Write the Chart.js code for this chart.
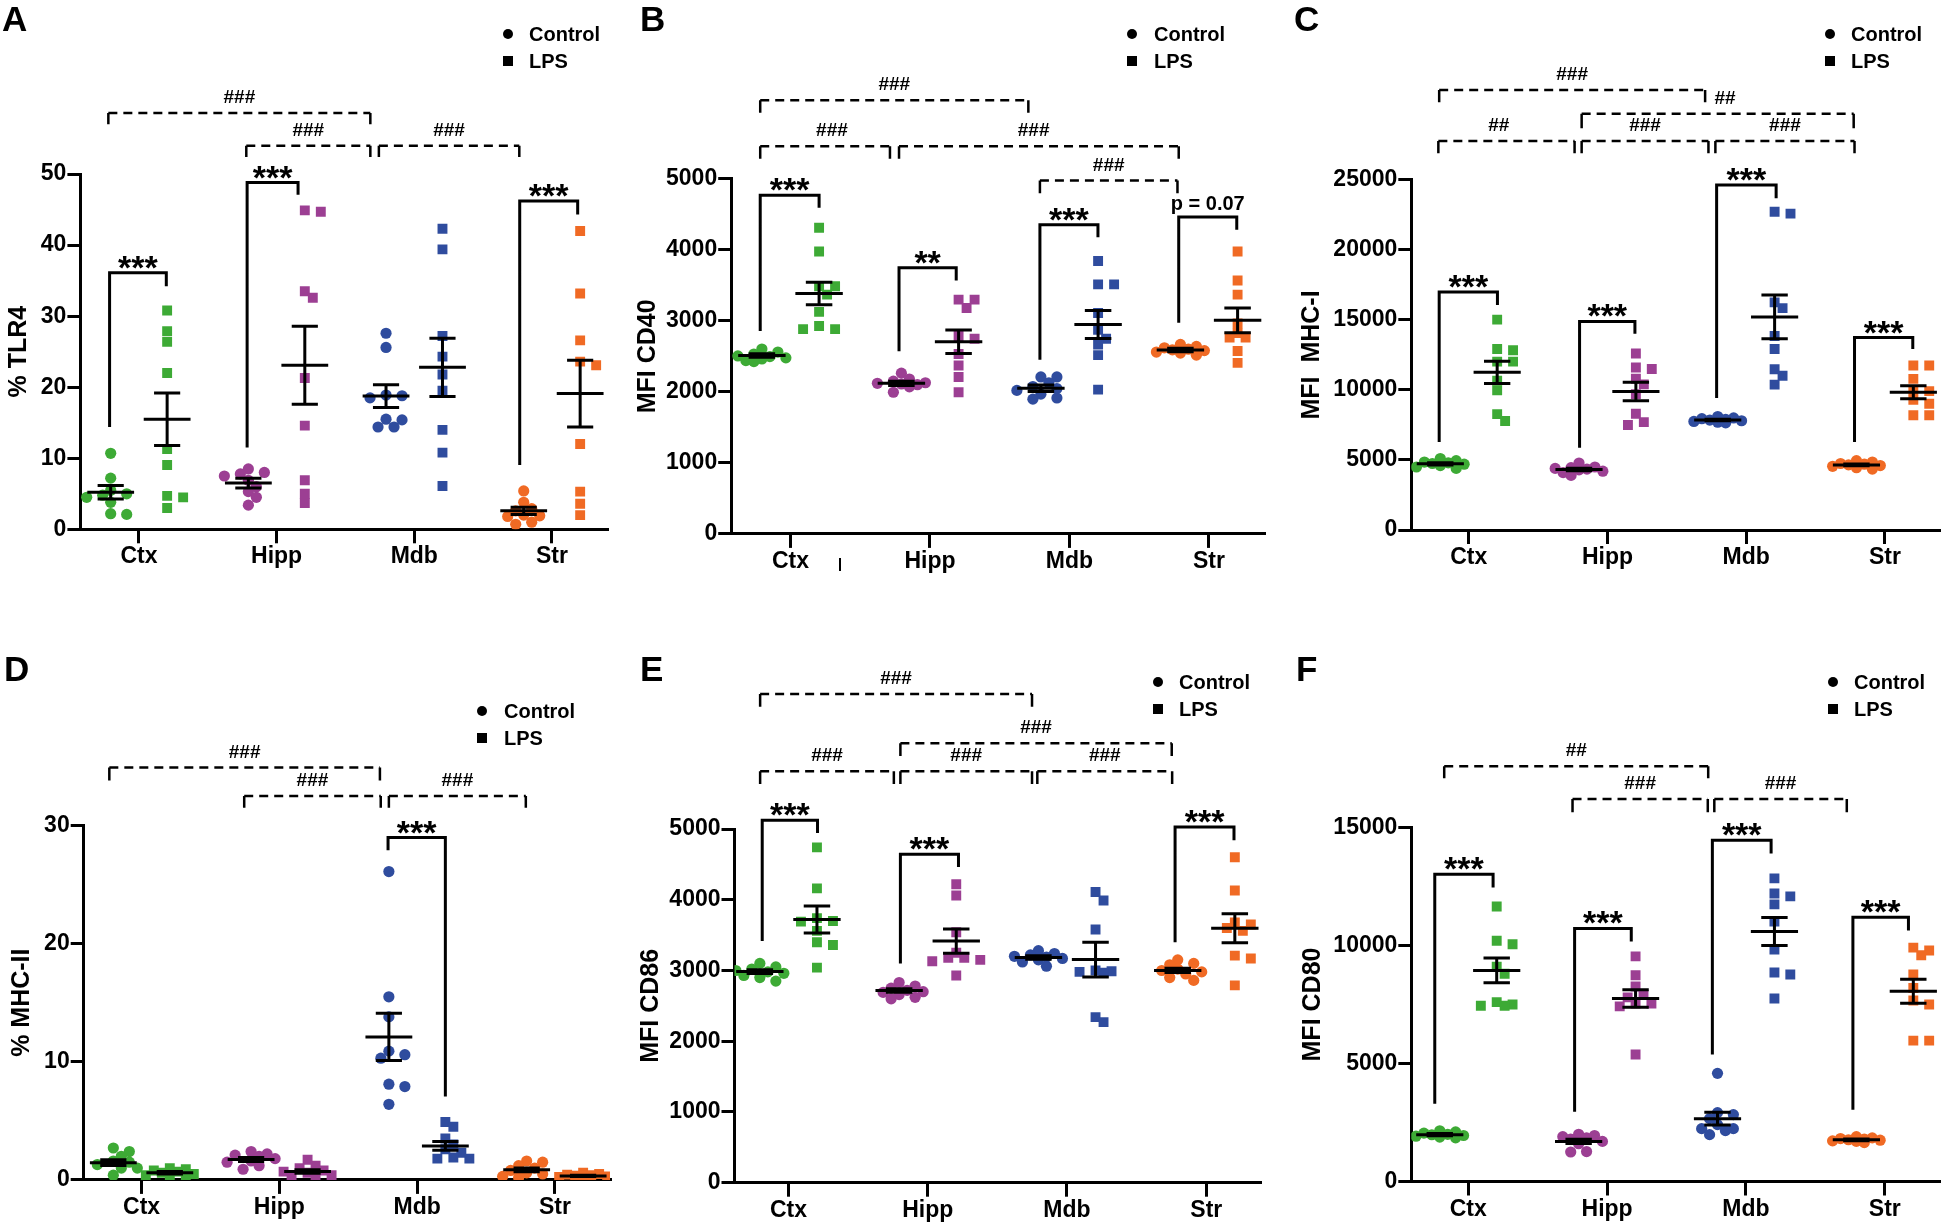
<!DOCTYPE html>
<html>
<head>
<meta charset="utf-8">
<script src="https://cdn.jsdelivr.net/npm/chart.js@4.4.1/dist/chart.umd.min.js"></script>
<style>
	body { margin: 0; background: #fff; width: 1946px; height: 1228px; position: relative; overflow: hidden;
		font-family: Arial, "Liberation Sans", sans-serif; color: #000; }
	canvas { position: absolute; }
	.letter { position: absolute; font-weight: bold; font-size: 35px; line-height: 35px; }
	.key { position: absolute; font-weight: bold; font-size: 20px; line-height: 20px; white-space: nowrap; }
	.dot { position: absolute; width: 10px; height: 10px; background: #000; border-radius: 50%; }
	.sq { position: absolute; width: 10px; height: 10px; background: #000; }
</style>
</head>
<body>
<script>
const regions = ["Ctx", "Hipp", "Mdb", "Str"];
const groupNames = ["Control", "LPS"];
const regionColors = ["#3DAA35", "#9C3F93", "#2F4C9E", "#F06A24"];

// A - % TLR4
const tlr4Control = [
	[10.7, 7.2, 5.5, 5.0, 4.8, 4.5, 3.8, 2.2, 2.1],
	[8.5, 8.0, 7.8, 7.5, 6.9, 6.0, 5.3, 4.5, 3.4],
	[27.6, 25.6, 18.8, 18.5, 18.9, 15.4, 15.5, 14.4, 14.4],
	[5.4, 3.8, 2.9, 2.6, 2.0, 1.9, 1.8, 1.0, 0.7],
];
const tlr4Lps = [
	[30.8, 27.9, 26.4, 22.0, 11.3, 9.05, 4.7, 4.5, 3.0],
	[44.9, 44.7, 33.5, 32.6, 21.3, 14.6, 6.9, 5.0, 3.7],
	[42.3, 39.4, 27.2, 24.3, 21.8, 19.5, 14.0, 10.8, 6.1],
	[42.0, 33.2, 26.6, 23.6, 23.1, 12.0, 5.3, 3.6, 2.0],
];
const tlr4ControlMeanSem = [[5.2, 0.95], [6.5, 0.7], [18.75, 1.6], [2.6, 0.5]];
const tlr4LpsMeanSem = [[15.5, 3.7], [23.1, 5.5], [22.8, 4.1], [19.1, 4.7]];
const tlr4Stars = [
	{ x1: -0.213, x2: 0.199, top: 36.1, y1: 14.4, y2: 34.2, label: "***" },
	{ x1: 0.786, x2: 1.156, top: 48.8, y1: 11.5, y2: 47.1, label: "***" },
	{ x1: 2.766, x2: 3.187, top: 46.2, y1: 9.05, y2: 44.3, label: "***" },
];
const tlr4Hashes = [
	{ x1: -0.222, x2: 1.681, top: 58.6, leg: 57.0, label: "###" },
	{ x1: 0.78, x2: 1.681, top: 54.0, leg: 52.4, label: "###" },
	{ x1: 1.743, x2: 2.763, top: 54.0, leg: 52.4, label: "###" },
];

// B - MFI CD40
const cd40Control = [
	[2602, 2560, 2532, 2505, 2495, 2478, 2462, 2440, 2425],
	[2263, 2180, 2150, 2128, 2120, 2110, 2100, 2070, 1994],
	[2209, 2209, 2128, 2074, 2047, 2020, 1967, 1913, 1897],
	[2667, 2640, 2620, 2600, 2590, 2580, 2560, 2545, 2516],
];
const cd40Lps = [
	[4310, 3976, 3486, 3486, 3368, 3125, 2926, 2883, 2883],
	[3298, 3298, 3179, 2786, 2748, 2532, 2371, 2209, 1994],
	[3842, 3513, 3513, 3109, 2872, 2748, 2667, 2516, 2031],
	[3976, 3567, 3368, 2963, 2829, 2764, 2764, 2575, 2408],
];
const cd40ControlMeanSem = [[2510, 25], [2120, 30], [2050, 45], [2590, 25]];
const cd40LpsMeanSem = [[3384, 160], [2705, 165], [2947, 197], [3006, 175]];
const cd40Stars = [
	{ x1: -0.217, x2: 0.205, top: 4768, y1: 2856, y2: 4591, label: "***" },
	{ x1: 0.778, x2: 1.188, top: 3745, y1: 2570, y2: 3567, label: "**" },
	{ x1: 1.788, x2: 2.204, top: 4353, y1: 2451, y2: 4176, label: "***" },
	{ x1: 2.783, x2: 3.199, top: 4461, y1: 2974, y2: 4283, label: "p = 0.07" },
];
const cd40Hashes = [
	{ x1: -0.217, x2: 1.705, top: 6105, leg: 5927, label: "###" },
	{ x1: -0.217, x2: 0.713, top: 5458, leg: 5280, label: "###", labelAt: 0.297 },
	{ x1: 0.778, x2: 2.783, top: 5458, leg: 5280, label: "###", labelAt: 1.743 },
	{ x1: 1.788, x2: 2.774, top: 4973, leg: 4795, label: "###" },
];

// C - MFI MHC-I
const mhc1Control = [
	[5100, 4950, 4850, 4800, 4750, 4700, 4600, 4500, 4400],
	[4780, 4500, 4450, 4400, 4350, 4300, 4200, 4100, 3900],
	[8100, 8000, 7950, 7900, 7850, 7800, 7750, 7700, 7650],
	[4950, 4850, 4750, 4700, 4650, 4600, 4550, 4450, 4350],
];
const mhc1Lps = [
	[15026, 12922, 12840, 12020, 12020, 10655, 9972, 8278, 7786],
	[12600, 11600, 11500, 10800, 10400, 9700, 8300, 7700, 7500],
	[22730, 22594, 16255, 15846, 13851, 12922, 11475, 11010, 10382],
	[11748, 11748, 10791, 9972, 9917, 9289, 9016, 8196, 8196],
];
const mhc1ControlMeanSem = [[4730, 80], [4320, 90], [7850, 50], [4650, 70]];
const mhc1LpsMeanSem = [[11256, 790], [9890, 655], [15217, 1560], [9835, 465]];
const mhc1Stars = [
	{ x1: -0.213, x2: 0.207, top: 16993, y1: 6284, y2: 16064, label: "***" },
	{ x1: 0.799, x2: 1.198, top: 14889, y1: 5874, y2: 14015, label: "***" },
	{ x1: 1.787, x2: 2.216, top: 24643, y1: 9425, y2: 23686, label: "***" },
	{ x1: 2.781, x2: 3.201, top: 13742, y1: 6284, y2: 12922, label: "***" },
];
const mhc1Hashes = [
	{ x1: -0.213, x2: 1.704, top: 31418, leg: 30544, label: "###" },
	{ x1: 0.814, x2: 2.775, top: 29724, leg: 28686, label: "##", labelAt: 1.847 },
	{ x1: -0.219, x2: 0.763, top: 27784, leg: 26910, label: "##", labelAt: 0.216 },
	{ x1: 0.814, x2: 1.728, top: 27784, leg: 26910, label: "###" },
	{ x1: 1.778, x2: 2.781, top: 27784, leg: 26910, label: "###" },
];

// D - % MHC-II
const mhc2Control = [
	[2.7, 2.4, 2.0, 1.6, 1.5, 1.3, 1.0, 1.0, 0.4],
	[2.4, 2.2, 2.1, 2.0, 1.8, 1.6, 1.5, 1.2, 0.9],
	[26.1, 15.5, 13.8, 10.9, 10.6, 10.3, 8.1, 7.9, 6.4],
	[1.6, 1.5, 1.2, 1.0, 0.8, 0.6, 0.5, 0.3, 0.2],
];
const mhc2Lps = [
	[1.0, 0.9, 0.8, 0.7, 0.6, 0.5, 0.4, 0.3, 0.2],
	[1.7, 1.2, 1.0, 0.8, 0.7, 0.6, 0.4, 0.3, 0.2],
	[4.9, 4.5, 3.5, 3.0, 2.6, 2.3, 1.9, 1.8, 1.8],
	[0.6, 0.5, 0.45, 0.4, 0.35, 0.3, 0.25, 0.2, 0.1],
];
const mhc2ControlMeanSem = [[1.46, 0.25], [1.73, 0.17], [12.1, 2.0], [0.85, 0.15]];
const mhc2LpsMeanSem = [[0.61, 0.1], [0.71, 0.15], [2.88, 0.38], [0.34, 0.05]];
const mhc2Stars = [
	{ x1: 1.789, x2: 2.205, top: 28.98, y1: 27.9, y2: 7.05, label: "***" },
];
const mhc2Hashes = [
	{ x1: -0.234, x2: 1.73, top: 34.9, leg: 33.8, label: "###" },
	{ x1: 0.745, x2: 1.736, top: 32.5, leg: 31.5, label: "###" },
	{ x1: 1.795, x2: 2.789, top: 32.5, leg: 31.5, label: "###" },
];

// E - MFI CD86
const cd86Control = [
	[3100, 3050, 3020, 3000, 2980, 2960, 2930, 2900, 2850],
	[2830, 2780, 2750, 2720, 2700, 2690, 2660, 2620, 2600],
	[3280, 3240, 3220, 3200, 3190, 3170, 3150, 3120, 3060],
	[3150, 3100, 3080, 3020, 3000, 2980, 2950, 2900, 2860],
];
const cd86Lps = [
	[4740, 4160, 3740, 3700, 3690, 3560, 3400, 3360, 3040],
	[4220, 4060, 3540, 3250, 3180, 3180, 3150, 3130, 2930],
	[4110, 3990, 3580, 3000, 2990, 2980, 2970, 2340, 2270],
	[4600, 4130, 3680, 3650, 3600, 3560, 3210, 3170, 2790],
];
const cd86ControlMeanSem = [[2984, 25], [2718, 25], [3183, 25], [3001, 30]];
const cd86LpsMeanSem = [[3721, 190], [3415, 170], [3154, 245], [3596, 205]];
const cd86Stars = [
	{ x1: -0.188, x2: 0.209, top: 5125, y1: 3415, y2: 4944, label: "***" },
	{ x1: 0.804, x2: 1.221, top: 4644, y1: 3098, y2: 4462, label: "***" },
	{ x1: 2.776, x2: 3.199, top: 5029, y1: 3398, y2: 4842, label: "***" },
];
const cd86Hashes = [
	{ x1: -0.203, x2: 1.749, top: 6909, leg: 6728, label: "###" },
	{ x1: 0.804, x2: 2.752, top: 6212, leg: 6031, label: "###" },
	{ x1: -0.203, x2: 0.757, top: 5816, leg: 5635, label: "###" },
	{ x1: 0.804, x2: 1.749, top: 5816, leg: 5635, label: "###" },
	{ x1: 1.787, x2: 2.755, top: 5816, leg: 5635, label: "###" },
];

// F - MFI CD80
const cd80Control = [
	[2150, 2100, 2050, 2000, 1980, 1950, 1920, 1880, 1850],
	[2000, 1950, 1900, 1850, 1800, 1700, 1600, 1270, 1250],
	[4582, 2919, 2834, 2664, 2410, 2240, 2240, 2155, 1986],
	[1900, 1850, 1820, 1800, 1770, 1750, 1720, 1700, 1650],
];
const cd80Lps = [
	[11650, 10200, 10050, 9100, 8800, 7600, 7500, 7450, 7450],
	[9540, 8740, 8260, 7920, 7800, 7540, 7540, 7420, 5380],
	[12846, 12202, 12083, 11743, 11014, 9826, 8858, 8774, 7755],
	[9910, 9790, 9590, 8770, 8200, 7670, 7500, 5970, 5970],
];
const cd80ControlMeanSem = [[1986, 50], [1697, 90], [2664, 270], [1765, 40]];
const cd80LpsMeanSem = [[8943, 526], [7755, 375], [10589, 594], [8061, 510]];
const cd80Stars = [
	{ x1: -0.241, x2: 0.179, top: 13016, y1: 3292, y2: 12456, label: "***" },
	{ x1: 0.766, x2: 1.174, top: 10725, y1: 2953, y2: 10165, label: "***" },
	{ x1: 1.758, x2: 2.181, top: 14458, y1: 5380, y2: 13898, label: "***" },
	{ x1: 2.770, x2: 3.170, top: 11200, y1: 3038, y2: 10640, label: "***" },
];
const cd80Hashes = [
	{ x1: -0.173, x2: 1.728, top: 17598, leg: 17089, label: "##" },
	{ x1: 0.751, x2: 1.725, top: 16206, leg: 15646, label: "###" },
	{ x1: 1.772, x2: 2.726, top: 16206, leg: 15646, label: "###" },
];

const FONT = 'Arial, "Liberation Sans", sans-serif';
const GROUP_OFFSET = 0.205;

const panels = [
	{ letter: "A", title: "% TLR4", yMax: 50, yStep: 10,
		box: { left: 0, top: 0, width: 622, height: 600 },
		area: { left: 80.4, top: 174.1, right: 607, bottom: 529.3 }, xMin: -0.425, xMax: 3.40, titleX: 18.8,
		letterPos: [2, 6], legendPos: [508, 34, 529],
		control: tlr4Control, lps: tlr4Lps, controlStats: tlr4ControlMeanSem, lpsStats: tlr4LpsMeanSem,
		stars: tlr4Stars, hashes: tlr4Hashes },
	{ letter: "B", title: "MFI CD40", yMax: 5000, yStep: 1000,
		box: { left: 622, top: 0, width: 650, height: 600 },
		area: { left: 731.2, top: 178.7, right: 1264.8, bottom: 533.9 }, xMin: -0.425, xMax: 3.40, titleX: 648,
		letterPos: [640, 6], legendPos: [1132, 34, 1154],
		control: cd40Control, lps: cd40Lps, controlStats: cd40ControlMeanSem, lpsStats: cd40LpsMeanSem,
		stars: cd40Stars, hashes: cd40Hashes },
	{ letter: "C", title: "MFI  MHC-I", yMax: 25000, yStep: 5000,
		box: { left: 1272, top: 0, width: 674, height: 600 },
		area: { left: 1411.3, top: 179.9, right: 1942.7, bottom: 530 }, xMin: -0.414, xMax: 3.39, titleX: 1312.6,
		letterPos: [1294, 6], legendPos: [1830, 34, 1851],
		control: mhc1Control, lps: mhc1Lps, controlStats: mhc1ControlMeanSem, lpsStats: mhc1LpsMeanSem,
		stars: mhc1Stars, hashes: mhc1Hashes },
	{ letter: "D", title: "% MHC-II", yMax: 30, yStep: 10,
		box: { left: 0, top: 600, width: 622, height: 628 },
		area: { left: 83.7, top: 825.5, right: 610, bottom: 1179.9 }, xMin: -0.42, xMax: 3.40, titleX: 22,
		letterPos: [4, 656], legendPos: [482, 711, 504],
		control: mhc2Control, lps: mhc2Lps, controlStats: mhc2ControlMeanSem, lpsStats: mhc2LpsMeanSem,
		stars: mhc2Stars, hashes: mhc2Hashes },
	{ letter: "E", title: "MFI CD86", yMax: 5000, yStep: 1000,
		box: { left: 622, top: 600, width: 650, height: 628 },
		area: { left: 734.5, top: 829, right: 1260.6, bottom: 1182.7 }, xMin: -0.387, xMax: 3.39, titleX: 651,
		letterPos: [640, 656], legendPos: [1158, 682, 1179],
		control: cd86Control, lps: cd86Lps, controlStats: cd86ControlMeanSem, lpsStats: cd86LpsMeanSem,
		stars: cd86Stars, hashes: cd86Hashes },
	{ letter: "F", title: "MFI CD80", yMax: 15000, yStep: 5000,
		box: { left: 1272, top: 600, width: 674, height: 628 },
		area: { left: 1411.3, top: 827.5, right: 1943.6, bottom: 1181.5 }, xMin: -0.41, xMax: 3.39, titleX: 1313,
		letterPos: [1296, 656], legendPos: [1833, 682, 1854],
		control: cd80Control, lps: cd80Lps, controlStats: cd80ControlMeanSem, lpsStats: cd80LpsMeanSem,
		stars: cd80Stars, hashes: cd80Hashes },
];

// spread overlapping points sideways (like a prism scatter dot plot)
function swarm(values, center, pxPerX, pxPerY) {
	const placed = [];
	const xs = new Array(values.length);
	const order = values.map((v, i) => i).sort((a, b) => values[b] - values[a]);
	order.forEach((i) => {
		const py = values[i] * pxPerY;
		let best = null;
		for (const k of [0, 1, -1, 2, -2, 3, -3]) {
			const px = k * 8;
			const d = placed.reduce((m, p) => Math.min(m, Math.hypot(p.px - px, p.py - py)), Infinity);
			if (d >= 9) { best = { px, d }; break; }
			if (!best || d > best.d + 2) best = { px, d };
		}
		placed.push({ px: best.px, py });
		xs[i] = center + best.px / pxPerX;
	});
	return xs;
}

function errorBarPoints(stats, offset) {
	const pts = [];
	stats.forEach(([mean, sem], i) => {
		const c = i + offset;
		pts.push({ x: c - 0.17, y: mean }, { x: c + 0.17, y: mean }, { x: c, y: null });
		pts.push({ x: c, y: mean - sem }, { x: c, y: mean + sem }, { x: c, y: null });
		pts.push({ x: c - 0.095, y: mean + sem }, { x: c + 0.095, y: mean + sem }, { x: c, y: null });
		pts.push({ x: c - 0.095, y: mean - sem }, { x: c + 0.095, y: mean - sem }, { x: c, y: null });
	});
	return pts;
}

function starPoints(list) {
	const pts = [];
	list.forEach((b) => {
		pts.push({ x: b.x1, y: b.y1 }, { x: b.x1, y: b.top }, { x: b.x2, y: b.top }, { x: b.x2, y: b.y2 }, { x: b.x2, y: null });
	});
	return pts;
}

function hashLinePoints(list) {
	const pts = [];
	list.forEach((b) => pts.push({ x: b.x1, y: b.top }, { x: b.x2, y: b.top }, { x: b.x2, y: null }));
	return pts;
}

function hashLegPoints(list) {
	const pts = [];
	list.forEach((b) => {
		pts.push({ x: b.x1, y: b.leg }, { x: b.x1, y: b.top }, { x: b.x1, y: null });
		pts.push({ x: b.x2, y: b.top }, { x: b.x2, y: b.leg }, { x: b.x2, y: null });
	});
	return pts;
}

const bracketText = {
	id: "bracketText",
	afterDatasetsDraw(chart, args, opts) {
		const { ctx, scales: { x, y } } = chart;
		ctx.save();
		ctx.fillStyle = "#000";
		ctx.textAlign = "center";
		ctx.textBaseline = "alphabetic";
		(opts.stars || []).forEach((b) => {
			const cx = x.getPixelForValue((b.x1 + b.x2) / 2);
			const top = y.getPixelForValue(b.top);
			if (b.label.startsWith("p")) {
				ctx.font = "bold 20px " + FONT;
				ctx.fillText(b.label, cx, top - 7);
			} else {
				ctx.font = "bold 34px " + FONT;
				ctx.fillText(b.label, cx, top + 6);
			}
		});
		ctx.font = "bold 19px " + FONT;
		(opts.hashes || []).forEach((b) => {
			const at = b.labelAt !== undefined ? b.labelAt : (b.x1 + b.x2) / 2;
			ctx.fillText(b.label, x.getPixelForValue(at), y.getPixelForValue(b.top) - 10);
		});
		ctx.restore();
	},
};

function lineSet(data, width, dash) {
	return {
		type: "line", data, borderColor: "#000", borderWidth: width, borderDash: dash || [],
		pointRadius: 0, fill: false, spanGaps: false, tension: 0, clip: false,
	};
}

function addText(cls, text, left, top) {
	const el = document.createElement("div");
	el.className = cls;
	el.textContent = text;
	el.style.left = left + "px";
	el.style.top = top + "px";
	document.body.appendChild(el);
}

function addMarker(cls, cx, cy) {
	const el = document.createElement("div");
	el.className = cls;
	el.style.left = (cx - 5) + "px";
	el.style.top = (cy - 5) + "px";
	document.body.appendChild(el);
}

panels.forEach((p) => {
	const canvas = document.createElement("canvas");
	canvas.width = p.box.width;
	canvas.height = p.box.height;
	canvas.style.left = p.box.left + "px";
	canvas.style.top = p.box.top + "px";
	document.body.appendChild(canvas);

	const pxPerX = (p.area.right - p.area.left) / (p.xMax - p.xMin);
	const pxPerY = (p.area.bottom - p.area.top) / p.yMax;

	const datasets = [
		lineSet(errorBarPoints(p.controlStats, -GROUP_OFFSET), 3),
		lineSet(errorBarPoints(p.lpsStats, GROUP_OFFSET), 3),
		lineSet(starPoints(p.stars), 3),
		lineSet(hashLinePoints(p.hashes), 2.5, [9, 6]),
		lineSet(hashLegPoints(p.hashes), 2.5),
	];
	regions.forEach((r, i) => {
		const cx = swarm(p.control[i], i - GROUP_OFFSET, pxPerX, pxPerY);
		datasets.push({
			label: r + " " + groupNames[0],
			data: p.control[i].map((v, j) => ({ x: cx[j], y: v })),
			pointStyle: "circle", pointRadius: 5.6, backgroundColor: regionColors[i], borderWidth: 0,
		});
		const lx = swarm(p.lps[i], i + GROUP_OFFSET, pxPerX, pxPerY);
		datasets.push({
			label: r + " " + groupNames[1],
			data: p.lps[i].map((v, j) => ({ x: lx[j], y: v })),
			pointStyle: "rect", pointRadius: 7, backgroundColor: regionColors[i], borderWidth: 0,
		});
	});

	new Chart(canvas, {
		type: "scatter",
		data: { datasets },
		options: {
			responsive: false,
			animation: false,
			events: [],
			layout: {
				padding: {
					left: 0, bottom: 0,
					top: p.area.top - p.box.top,
					right: p.box.left + p.box.width - p.area.right,
				},
			},
			plugins: {
				legend: { display: false },
				tooltip: { enabled: false },
				bracketText: { stars: p.stars, hashes: p.hashes },
			},
			scales: {
				x: {
					type: "linear", min: p.xMin, max: p.xMax,
					afterFit: (s) => { s.height = p.box.top + p.box.height - p.area.bottom; },
					afterBuildTicks: (s) => { s.ticks = regions.map((r, i) => ({ value: i })); },
					ticks: {
						autoSkip: false, maxRotation: 0, padding: 0, color: "#000",
						font: { family: FONT, size: 23, weight: "bold" },
						callback: (v) => regions[v],
					},
					grid: { drawOnChartArea: false, drawTicks: true, tickLength: 14, color: "#000", lineWidth: 3 },
					border: { display: true, color: "#000", width: 3 },
				},
				y: {
					min: 0, max: p.yMax,
					afterFit: (s) => { s.width = p.area.left - p.box.left; },
					ticks: {
						stepSize: p.yStep, padding: 1, color: "#000",
						font: { family: FONT, size: 23, weight: "bold" },
						callback: (v) => String(v),
					},
					title: {
						display: true, text: p.title, color: "#000",
						font: { family: FONT, size: 25, weight: "bold", lineHeight: 1.2 },
						padding: { top: p.titleX - p.box.left - 15, bottom: 0 },
					},
					grid: { drawOnChartArea: false, drawTicks: true, tickLength: 13, color: "#000", lineWidth: 3 },
					border: { display: true, color: "#000", width: 3 },
				},
			},
		},
		plugins: [bracketText],
	});

	addText("letter", p.letter, p.letterPos[0], p.letterPos[1] - 4.6);
	const [mx, my, tx] = p.legendPos;
	addMarker("dot", mx, my);
	addText("key", groupNames[0], tx, my - 10);
	addMarker("sq", mx, my + 26.5);
	addText("key", groupNames[1], tx, my + 16.5);
});

// small stray mark under panel B's axis
const mark = document.createElement("div");
mark.style.cssText = "position:absolute;left:839px;top:558px;width:2px;height:13px;background:#000";
document.body.appendChild(mark);
</script>
</body>
</html>
